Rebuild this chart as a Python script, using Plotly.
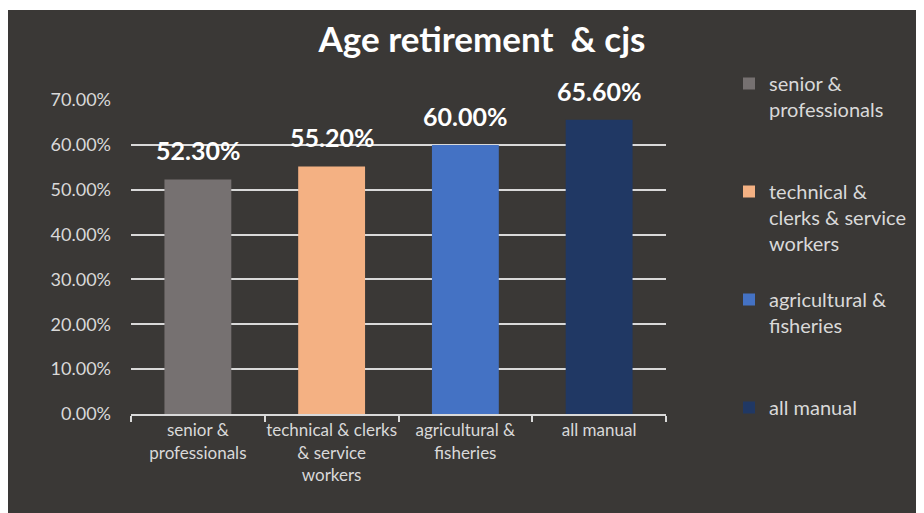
import plotly.graph_objects as go

categories = ["senior &<br>professionals", "technical & clerks<br>& service<br>workers",
              "agricultural &<br>fisheries", "all manual"]
legend_names = ["senior &<br>professionals<br> ", "technical &<br>clerks & service<br>workers",
                "agricultural &<br>fisheries<br> ", "all manual"]
values = [0.523, 0.552, 0.600, 0.656]
labels = ["52.30%", "55.20%", "60.00%", "65.60%"]
colors = ["#767171", "#F4B183", "#4472C4", "#203864"]

BG = "#3A3836"
TXT = "#D9D9D9"
FONT = "Lato"

# plot area in figure pixels (page adds 8px body margin)
L, R, T, B = 123, 658, 92, 406
W, H = R - L, B - T

fig = go.Figure()
for i, (c, v, n, col) in enumerate(zip(categories, values, legend_names, colors)):
    fig.add_trace(go.Bar(x=[c], y=[v], name=n, marker=dict(color=col, line=dict(width=0)),
                         legendgroup=f"g{i}", hoverinfo="skip"))

for c, v, t in zip(categories, values, labels):
    fig.add_annotation(x=c, y=v, text=f"<b>{t}</b>", showarrow=False, yanchor="bottom",
                       yshift=12, font=dict(family=FONT, size=25, color="#FFFFFF"))

# thin white strip at the top of the chart
fig.add_shape(type="rect", xref="paper", yref="paper", x0=-1.0, x1=2.0,
              y0=(B - 2) / H, y1=(B + 5) / H, fillcolor="#FFFFFF", line=dict(width=0))

fig.update_layout(
    width=924, height=513,
    margin=dict(l=L, r=924 - R, t=T, b=513 - B, autoexpand=False),
    paper_bgcolor=BG, plot_bgcolor=BG,
    barmode="overlay", bargap=0.5,
    title=dict(text="<b>Age retirement  & cjs</b>", x=474 / 924, xanchor="center",
               y=1 - 32 / 513, yanchor="middle",
               font=dict(family=FONT, size=35, color="#FFFFFF")),
    font=dict(family=FONT, color=TXT),
    showlegend=True,
    legend=dict(x=(721 - L) / W, xanchor="left", y=(B - 56) / H, yanchor="top",
                bgcolor="rgba(0,0,0,0)", font=dict(family=FONT, size=20, color=TXT),
                traceorder="grouped", tracegroupgap=27, valign="top", maxheight=500),
    xaxis=dict(showgrid=False, showline=True, linecolor="#D9D9D9", linewidth=2,
               ticks="outside", tickson="boundaries", ticklen=6, tickcolor="#D9D9D9",
               tickwidth=1.5, tickangle=0, tickfont=dict(family=FONT, size=17, color=TXT),
               automargin=False, fixedrange=True),
    yaxis=dict(range=[0, 0.7001], dtick=0.1, tickformat=".2%", showgrid=True,
               gridcolor="#D9D9D9", gridwidth=1.5, zeroline=False, showline=False,
               ticks="", tickfont=dict(family=FONT, size=18, color=TXT), ticklabelstandoff=19,
               automargin=False, fixedrange=True),
)

fig.write_html("out.html")
